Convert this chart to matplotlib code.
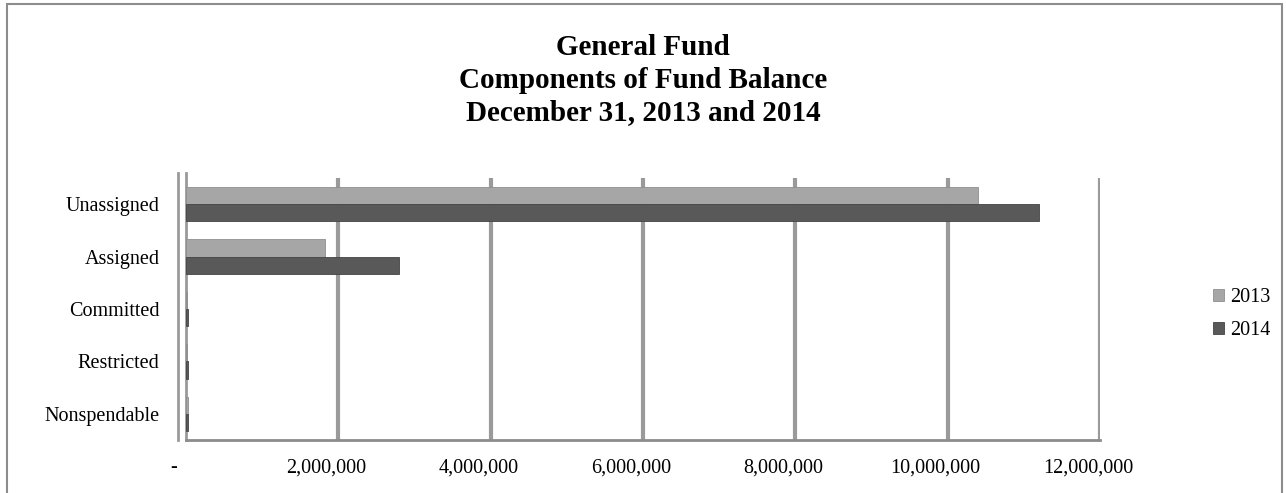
import matplotlib
matplotlib.use("Agg")
import matplotlib.pyplot as plt
from matplotlib import patches
from matplotlib.transforms import ScaledTranslation
import numpy as np

categories = ["Nonspendable", "Restricted", "Committed", "Assigned", "Unassigned"]
values_2013 = [20000, 15000, 15000, 1830000, 10400000]
values_2014 = [30000, 25000, 25000, 2800000, 11200000]
series_names = ["2013", "2014"]
xticks = [0, 2000000, 4000000, 6000000, 8000000, 10000000, 12000000]

c2013 = "#a6a6a6"
c2014 = "#595959"
grid_c = "#9a9a9a"

plt.rcParams["font.family"] = ["Liberation Serif", "DejaVu Serif"]

fig = plt.figure(figsize=(12.86, 4.93), dpi=100)
# outer chart frame
fig.patches.append(patches.Rectangle((7/1286, -0.01), 1275/1286, 1.0 - 4/493 + 0.01,
                                     transform=fig.transFigure, fill=False,
                                     edgecolor="#8c8c8c", linewidth=1.5))

ax = fig.add_axes([186/1286, 1 - 440/493, (1100-186)/1286, (440-178)/493])

y = np.arange(len(categories))
h = 0.33
ax.barh(y + h/2, values_2013, height=h, color=c2013, edgecolor="#8f8f8f", linewidth=0.6,
        label=series_names[0], zorder=3)
ax.barh(y - h/2, values_2014, height=h, color=c2014, edgecolor="#444444", linewidth=0.6,
        label=series_names[1], zorder=3)

ax.set_xlim(0, 12000000)
ax.set_ylim(-0.5, len(categories) - 0.5)
ax.set_yticks(y)
ax.set_yticklabels(categories, fontsize=14.5)
ax.set_xticks(xticks)
ax.set_xticklabels(["-" if v == 0 else "{:,}".format(v) for v in xticks], fontsize=14.5)
ax.tick_params(axis="both", length=0)
ax.tick_params(axis="x", pad=13)
ax.tick_params(axis="y", pad=19)
shift = ScaledTranslation(-12/100, 0, fig.dpi_scale_trans)
for lab in ax.get_xticklabels():
    lab.set_horizontalalignment("center")
    lab.set_transform(lab.get_transform() + shift)

for v in xticks[1:]:
    ax.axvline(v, color=grid_c, linewidth=3, zorder=1)

for s in ["top", "right", "left"]:
    ax.spines[s].set_visible(False)
ax.spines["bottom"].set_color("#8c8c8c")
ax.spines["bottom"].set_linewidth(2)

# left wall as double line
ax.plot([-110000, -110000], [-0.5, 4.6], color=grid_c, linewidth=2, clip_on=False, zorder=2)
ax.plot([0, 0], [-0.5, 4.6], color=grid_c, linewidth=2, clip_on=False, zorder=2)

leg = ax.legend(loc="center left", bbox_to_anchor=(1.104, 0.48), frameon=False, fontsize=14.5,
                handlelength=0.55, handleheight=0.55, handletextpad=0.3, labelspacing=0.68)

fig.text(0.5, 1 - 80/493, "General Fund\nComponents of Fund Balance\nDecember 31, 2013 and 2014",
         ha="center", va="center", fontsize=21, fontweight="bold", linespacing=1.28)

fig.savefig("out.png", dpi=100)
